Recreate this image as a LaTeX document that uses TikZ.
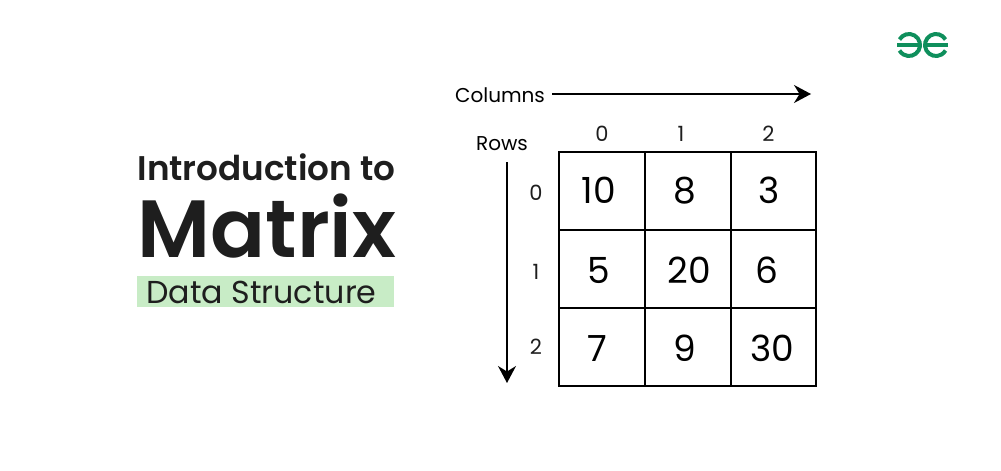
\documentclass[tikz,border=0pt]{standalone}
\usepackage{fontspec}
\setmainfont{Poppins}
\newfontfamily\semibold{Poppins SemiBold}
\usepackage[svgnames]{xcolor}
\usetikzlibrary{arrows.meta}
\definecolor{inkdark}{HTML}{1E1E1E}
\definecolor{logogreen}{HTML}{0F8F5C}
\definecolor{bandgreen}{HTML}{C8ECC6}
\newcommand{\fsize}[1]{\fontsize{#1}{#1}\selectfont}

\begin{document}
\begin{tikzpicture}[x=1pt,y=-1pt,
	cellnum/.style={anchor=base, inner sep=0, text=black, font=\fsize{36}},
	idxnum/.style={anchor=base, inner sep=0, text=inkdark, font=\fsize{21}},
	axislabel/.style={anchor=base, inner sep=0, text=black, font=\fsize{20}},
	gridline/.style={line width=1.8pt, black, line cap=rect},
	axisarrow/.style={line width=1.6pt, black, -{Stealth[length=17pt,width=18pt]}},
	logoline/.style={line width=4pt, logogreen}]
	\useasboundingbox (0,0) rectangle (1001,471);
	% Title
	\node[anchor=base, inner sep=0, text=inkdark, font=\semibold\fsize{34.2}] at (266.5,180) (intro) {Introduction to};
	\node[anchor=base, inner sep=0, text=inkdark, font=\semibold\fsize{81.2}] at (267,257) (matrix) {Matrix};
	\fill[bandgreen] (137,276) rectangle (394,307);
	\node[anchor=base, inner sep=0, text=inkdark, font=\fsize{31.7}] at (261.5,303) (data) {Data Structure};
	% Logo
	\draw[logoline] (897,45) -- (921,45);
	\draw[logoline] (948,45) -- (924,45);
	\draw[logoline] (899.5,39.5) arc[start angle=-150, end angle=150, radius=11];
	\draw[logoline] (945.5,39.5) arc[start angle=-30, end angle=-330, radius=11];
	% Axis labels
	\node[axislabel] at (500,102) (columns) {Columns};
	\node[axislabel] at (502,150) (rows) {Rows};
	\coordinate (columnsstart) at (552,94);
	\coordinate (columnsend) at (811,94);
	\coordinate (rowsstart) at (507,162);
	\coordinate (rowsend) at (507,383);
	\draw[axisarrow] (columnsstart) -- (columnsend);
	\draw[axisarrow] (rowsstart) -- (rowsend);
	% Indices
	\node[idxnum] at (602,141) (col0) {0};
	\node[idxnum] at (681,141) (col1) {1};
	\node[idxnum] at (768.5,141) (col2) {2};
	\node[idxnum] at (536,200) (row0) {0};
	\node[idxnum] at (536,279) (row1) {1};
	\node[idxnum] at (536,354.5) (row2) {2};
	% Grid
	\draw[gridline] (559,152) rectangle (816,386);
	\draw[gridline] (645,152) -- (645,386);
	\draw[gridline] (731,152) -- (731,386);
	\draw[gridline] (559,230) -- (816,230);
	\draw[gridline] (559,308) -- (816,308);
	% Entries
	\node[cellnum] at (599,203) (a00) {10};
	\node[cellnum] at (685,203) (a01) {8};
	\node[cellnum] at (769,203) (a02) {3};
	\node[cellnum] at (598.5,283) (a10) {5};
	\node[cellnum] at (689,283) (a11) {20};
	\node[cellnum] at (767,283) (a12) {6};
	\node[cellnum] at (597.5,361) (a20) {7};
	\node[cellnum] at (685,361) (a21) {9};
	\node[cellnum] at (772,361) (a22) {30};
\end{tikzpicture}
\end{document}
